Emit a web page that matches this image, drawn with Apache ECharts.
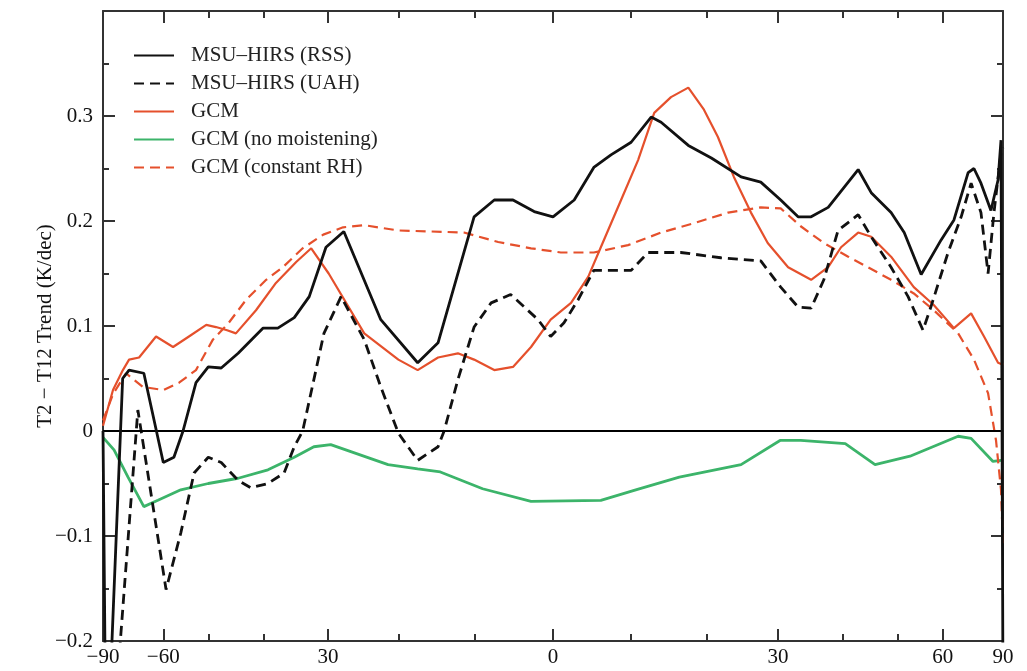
<!DOCTYPE html>
<html>
<head>
<meta charset="utf-8">
<script src="https://cdn.jsdelivr.net/npm/echarts@6/dist/echarts.min.js"></script>
<style>html,body{margin:0;padding:0;background:#fff}#c{width:1027px;height:671px}</style>
</head>
<body>
<div id="c"></div>
<script>
// ---- data (latitude in degrees, trend in K/dec) ----
const seriesNames = ['MSU–HIRS (RSS)', 'MSU–HIRS (UAH)', 'GCM', 'GCM (no moistening)', 'GCM (constant RH)'];

const rssLat = [-90, -84, -80, -73, -70.4, -65.4, -60, -57.4, -55.3, -52.5, -50, -47.5, -44.4, -40.1, -37.7, -35.1, -32.8, -30.3, -27.7, -22.5, -17.5, -14.8, -10.1, -7.5, -5.1, -2.4, 0, 2.7, 5.2, 7.4, 10.0, 12.6, 13.9, 17.5, 20.6, 24.7, 27.5, 30.4, 33.0, 35.0, 37.7, 42.7, 45.0, 48.7, 51.3, 54.9, 59.6, 63.0, 67.3, 69.3, 72.0, 76.7, 81.5, 84.6, 90];
const rssVal = [0.0, -0.26, -0.25, 0.05, 0.058, 0.055, -0.030, -0.025, 0.0, 0.046, 0.061, 0.060, 0.074, 0.098, 0.098, 0.108, 0.128, 0.175, 0.190, 0.106, 0.065, 0.084, 0.204, 0.220, 0.220, 0.209, 0.204, 0.220, 0.251, 0.263, 0.275, 0.299, 0.294, 0.272, 0.260, 0.242, 0.237, 0.220, 0.204, 0.204, 0.213, 0.249, 0.227, 0.208, 0.189, 0.149, 0.182, 0.201, 0.246, 0.250, 0.236, 0.210, 0.239, 0.277, -0.25];

const uahLat = [-90, -76, -67.3, -59.3, -55.8, -52.9, -50, -47.5, -44.4, -42.2, -39.3, -36.7, -35.1, -33.8, -30.6, -28.1, -24.8, -22.5, -20.1, -17.5, -14.8, -14.0, -12.2, -10.1, -7.9, -5.4, -1.9, -0.3, 1.4, 3.2, 5.2, 10.0, 12.2, 16.5, 21.9, 27.5, 30.4, 33.0, 35.0, 37.0, 39.3, 42.7, 45.0, 48.7, 52.1, 55.3, 57.1, 61.4, 65.1, 68.3, 72.0, 75.2, 78.5, 84.6, 90];
const uahVal = [-0.30, -0.25, 0.020, -0.151, -0.097, -0.040, -0.025, -0.030, -0.047, -0.054, -0.050, -0.040, -0.015, 0.0, 0.093, 0.128, 0.087, 0.042, -0.002, -0.028, -0.015, 0.0, 0.049, 0.099, 0.122, 0.130, 0.106, 0.090, 0.103, 0.125, 0.153, 0.153, 0.170, 0.170, 0.165, 0.162, 0.137, 0.118, 0.117, 0.144, 0.191, 0.206, 0.185, 0.156, 0.128, 0.096, 0.118, 0.170, 0.204, 0.236, 0.208, 0.150, 0.208, 0.265, 0.27];

const gcmLat = [-90, -77.9, -72.9, -70.4, -66.9, -61.9, -57.6, -54.0, -50.4, -48.5, -46.4, -44.8, -41.3, -38.0, -34.8, -32.5, -29.9, -24.8, -20.1, -17.5, -14.8, -12.2, -10.1, -7.5, -5.1, -2.8, -0.3, 2.3, 4.5, 6.1, 8.7, 10.9, 13.0, 15.2, 17.5, 19.6, 21.5, 23.7, 26.1, 28.5, 31.5, 35.0, 37.7, 39.8, 42.7, 45.0, 48.7, 53.3, 57.8, 63.0, 68.3, 73.3, 81.5, 90];
const gcmVal = [0.005, 0.039, 0.058, 0.068, 0.070, 0.090, 0.080, 0.090, 0.101, 0.099, 0.096, 0.093, 0.115, 0.141, 0.161, 0.174, 0.150, 0.093, 0.068, 0.058, 0.070, 0.074, 0.068, 0.058, 0.061, 0.080, 0.106, 0.122, 0.147, 0.175, 0.220, 0.258, 0.303, 0.318, 0.327, 0.306, 0.280, 0.242, 0.208, 0.179, 0.156, 0.144, 0.156, 0.175, 0.189, 0.185, 0.166, 0.137, 0.120, 0.098, 0.112, 0.090, 0.065, 0.063];

const noMoistLat = [-90, -77.3, -70.8, -65.4, -61.4, -55.8, -50, -44.4, -39.3, -35.1, -32.1, -29.6, -21.5, -17.5, -14.5, -9.0, -2.8, 6.1, 10.6, 16.3, 24.7, 30.3, 33.4, 40.5, 45.7, 52.5, 64.2, 68.3, 77.9, 84.6, 90];
const noMoistVal = [-0.006, -0.018, -0.044, -0.072, -0.066, -0.056, -0.050, -0.045, -0.037, -0.025, -0.015, -0.013, -0.032, -0.036, -0.039, -0.055, -0.067, -0.066, -0.056, -0.044, -0.032, -0.009, -0.009, -0.012, -0.032, -0.024, -0.005, -0.007, -0.029, -0.028, -0.028];

const constRhLat = [-90, -77.9, -71.6, -65.7, -60, -56.2, -52.5, -49.1, -46.1, -43.0, -39.6, -36.9, -33.8, -30.7, -27.8, -24.8, -20.1, -11.4, -7.0, -2.8, 1.0, 5.2, 9.6, 13.9, 18.3, 22.9, 27.5, 30.4, 33.4, 37.0, 41.0, 44.4, 48.7, 53.3, 57.8, 64.2, 69.3, 75.2, 79.9, 84.6, 90];
const constRhVal = [0.010, 0.035, 0.055, 0.042, 0.039, 0.046, 0.058, 0.087, 0.103, 0.125, 0.144, 0.156, 0.174, 0.187, 0.194, 0.196, 0.191, 0.189, 0.180, 0.174, 0.170, 0.170, 0.177, 0.189, 0.198, 0.208, 0.213, 0.212, 0.195, 0.179, 0.166, 0.156, 0.144, 0.131, 0.115, 0.093, 0.068, 0.036, -0.009, -0.056, -0.110];

// axis ticks (latitude) and their labels
const majorTickLats = [-90, -60, -30, 0, 30, 60, 90];
const majorTickLabels = ['−90', '−60', '30', '0', '30', '60', '90'];
const minorTickLats = [-50, -40, -20, -10, 10, 20, 40, 50];
const yTickValues = [-0.2, -0.1, 0, 0.1, 0.2, 0.3];
const yTitle = 'T2 − T12 Trend (K/dec)';

// ---- chart ----
const toX = lat => Math.sin(lat * Math.PI / 180);
const pairs = (lats, vals) => lats.map((l, i) => [toX(l), vals[i]]);
const majorX = majorTickLats.map(toX);
const minorX = minorTickLats.map(toX);

const FONT = '"Liberation Serif", "DejaVu Serif", serif';
const AX = '#333';
const BLACK = '#111', RED = '#e5502c', GREEN = '#3cb46a';

function xLabel(v) {
  let best = 0, bd = 1e9;
  majorX.forEach((m, i) => { const d = Math.abs(m - v); if (d < bd) { bd = d; best = i; } });
  return majorTickLabels[best];
}
function yLabel(v) {
  const r = Math.round(v * 10) / 10;
  if (!yTickValues.some(t => Math.abs(t - r) < 1e-9)) return '';
  if (r === 0) return '0';
  return (r < 0 ? '−' : '') + Math.abs(r).toFixed(1);
}

const baseX = (pos, ticks, len, showLabel, showLine) => ({
  type: 'value', min: -1, max: 1, position: pos, gridIndex: 0,
  axisLine: { show: showLine, onZero: false, lineStyle: { color: AX, width: 2 } },
  axisTick: { show: true, inside: true, length: len, customValues: ticks, lineStyle: { color: AX, width: 2 } },
  axisLabel: showLabel ? { show: true, customValues: ticks, formatter: xLabel, fontFamily: FONT, fontSize: 21, color: '#111', margin: 6 } : { show: false },
  splitLine: { show: false }
});

const baseY = (pos, showLabel) => ({
  type: 'value', min: -0.2, max: 0.4, interval: 0.1, position: pos,
  axisLine: { show: true, onZero: false, lineStyle: { color: AX, width: 2 } },
  axisTick: { show: true, inside: true, length: 12, lineStyle: { color: AX, width: 2 } },
  minorTick: { show: true, splitNumber: 2, length: 6, lineStyle: { color: AX, width: 2 } },
  axisLabel: showLabel ? { show: true, formatter: yLabel, fontFamily: FONT, fontSize: 21, color: '#111', margin: 10 } : { show: false },
  splitLine: { show: false },
  name: showLabel ? yTitle : '',
  nameLocation: 'middle', nameGap: 47, nameMoveOverlap: false,
  nameTextStyle: { fontFamily: FONT, fontSize: 21, color: '#111' }
});

const mk = (name, data, color, dashed, width, z) => ({
  name, type: 'line', data, xAxisIndex: 0, yAxisIndex: 0,
  showSymbol: false, symbol: 'none', smooth: false, clip: true, z,
  lineStyle: { color, width, type: dashed ? [10, 6] : 'solid' },
  itemStyle: { color },
  emphasis: { disabled: true }
});

const chart = echarts.init(document.getElementById('c'), null, { renderer: 'canvas' });
const s0 = mk(seriesNames[0], pairs(rssLat, rssVal), BLACK, false, 2.8, 5);
s0.markLine = {
  silent: true, symbol: 'none', label: { show: false },
  lineStyle: { color: '#000', width: 2, type: 'solid' },
  data: [{ yAxis: 0 }]
};
chart.setOption({
  animation: false,
  backgroundColor: '#fff',
  grid: { left: 103, right: 24, top: 11, bottom: 30, containLabel: false },
  legend: {
    orient: 'vertical', left: 128, top: 40,
    itemWidth: 40, itemHeight: 14, itemGap: 7,
    itemStyle: { opacity: 0 },
    textStyle: { fontFamily: FONT, fontSize: 21, color: '#222', padding: [0, 0, 0, 12] },
    data: seriesNames
  },
  xAxis: [
    baseX('bottom', majorX, 12, true, true),
    baseX('bottom', minorX, 7, false, false),
    baseX('top', majorX, 12, false, true),
    baseX('top', minorX, 7, false, false)
  ],
  yAxis: [baseY('left', true), baseY('right', false)],
  series: [
    s0,
    mk(seriesNames[1], pairs(uahLat, uahVal), BLACK, true, 2.8, 4),
    mk(seriesNames[2], pairs(gcmLat, gcmVal), RED, false, 2.2, 3),
    mk(seriesNames[3], pairs(noMoistLat, noMoistVal), GREEN, false, 2.8, 3),
    mk(seriesNames[4], pairs(constRhLat, constRhVal), RED, true, 2.2, 3)
  ]
});
</script>
</body>
</html>
